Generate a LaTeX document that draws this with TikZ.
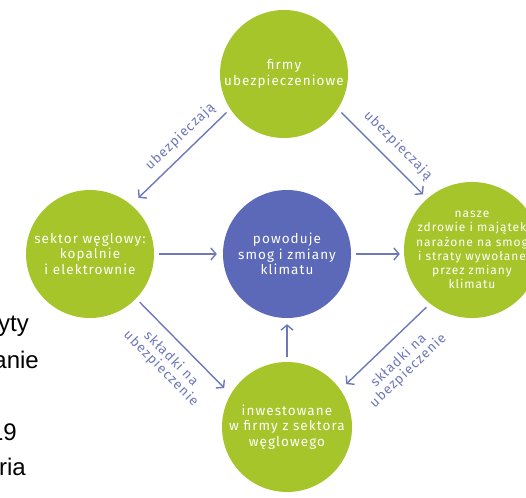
\documentclass[tikz,border=0pt]{standalone}
\usepackage{fontspec}
\setmainfont{Liberation Sans}
\newfontfamily\circfont[LetterSpace=8]{Fira Sans}
\newfontfamily\labfont[LetterSpace=8]{Fira Sans}
\usetikzlibrary{arrows.meta}
\definecolor{lime}{RGB}{166,197,42}
\definecolor{navyblob}{RGB}{92,104,184}
\definecolor{arr}{RGB}{110,120,186}
\begin{document}
\begin{tikzpicture}[x=1pt,y=-1pt,
  bubble/.style={circle,fill=lime,minimum size=128pt,inner sep=0pt,text=white,align=center,
    font=\circfont\fontsize{13.5}{15.5}\selectfont},
  smallbubble/.style={bubble,font=\circfont\fontsize{12}{14.2}\selectfont},
  link/.style={draw=arr,line width=1.4pt,-{Straight Barb[length=5pt,width=12pt,line width=1.4pt]},shorten >=6pt,shorten <=5pt},
  lab/.style={text=arr,align=center,font=\labfont\fontsize{13.5}{14}\selectfont,inner sep=0pt,sloped},
  frag/.style={anchor=base east,inner sep=0pt,font=\fontsize{24}{24}\selectfont}]
\useasboundingbox (0,0) rectangle (526,497);
\clip (0,0) rectangle (526,497);
\fill[white] (0,0) rectangle (526,497);

% fragments of text from the neighbouring page
\node[frag] (f1) at (29,331) {yty};
\node[frag] (f2) at (39,368) {anie};
\node[frag] (f3) at (17,440) {19};
\node[frag] (f4) at (26,475) {ria};

% circles
\node[bubble] (top) at (284,74) {firmy\\ubezpieczeniowe};
\node[bubble] (left) at (90,254) {sektor węglowy:\\kopalnie\\i elektrownie};
\node[bubble,fill=navyblob] (mid) at (287,254) {powoduje\\smog i zmiany\\klimatu};
\node[smallbubble,minimum size=130pt] (right) at (472,250) {nasze\\zdrowie i majątek\\narażone na smog\\i straty wywołane\\przez zmiany\\klimatu};
\node[bubble,minimum size=130pt] (bot) at (287,427) {inwestowane\\w firmy z sektora\\węglowego};

% connectors with labels
\draw[link,shorten >=10pt] (top.213) -- node[lab,above=7pt,pos=0.4] (l1) {ubezpieczają} (left.50);
\draw[link] (top.327) -- node[lab,above=9pt,pos=0.54] (l2) {ubezpieczają} (right.131);
\draw[link] (left.east) -- (mid.west);
\draw[link,shorten >=4pt] (mid.east) -- (mid.east -| right.west);
\draw[link] (bot.north) -- (mid.south);
\draw[link,shorten >=9pt] (left.316) -- node[lab,below=10pt] (l3) {składki na\\ubezpieczenie} (bot.150);
\draw[link,shorten >=8pt] (right.232) -- node[lab,below=12pt] (l4) {składki na\\ubezpieczenie} (bot.35);
\end{tikzpicture}
\end{document}
